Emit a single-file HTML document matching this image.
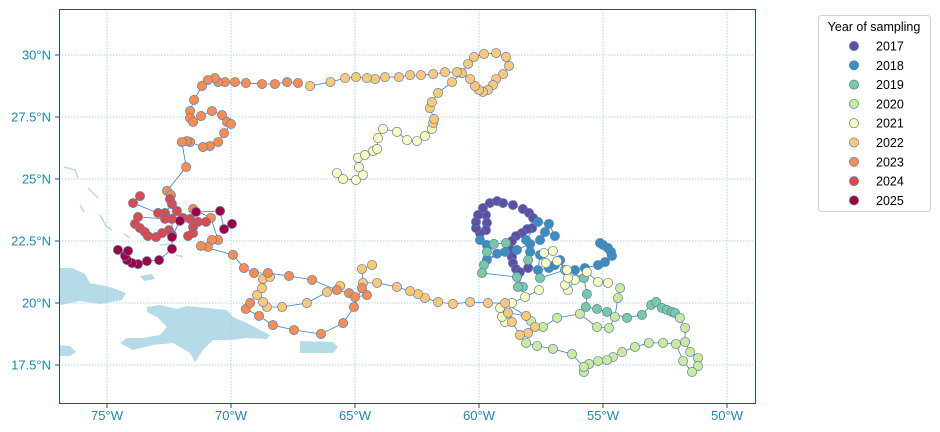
<!DOCTYPE html>
<html><head><meta charset="utf-8">
<style>
html,body{margin:0;padding:0;background:#fff;}
svg{display:block;font-family:"Liberation Sans",sans-serif;}
</style></head>
<body>
<svg id="chart" width="940" height="432" viewBox="0 0 940 432">
<defs><clipPath id="plotclip"><rect x="59" y="9" width="697" height="395"/></clipPath></defs>
<rect x="0" y="0" width="940" height="432" fill="#fff"/>
<g clip-path="url(#plotclip)" fill="#b5dbe8" stroke="none">
  <polygon points="55,268 72,268 85,274 90,283 110,287 126,293 122,300 100,304 80,301 55,306"/>
  <polygon points="147,307 160,305 177,309 187,306 207,308 227,310 233,317 240,320 247,323 260,330 270,335 267,339 247,338 230,340 213,340 203,350 195,362 190,353 173,343 153,345 133,350 120,343 127,338 143,338 160,335 167,327 157,317 147,312"/>
  <polygon points="300,341 333,342 338,347 333,353 300,353"/>
  <polygon points="55,345 70,346 76,352 70,356 55,356"/>
  <polygon points="140,276 152,274 155,279 144,281"/>
  <g stroke="#b5dbe8" stroke-width="1.5" fill="none">
    <path d="M64,167 L75,170 L78,178"/><path d="M88,188 L98,198"/><path d="M80,205 L84,212"/>
    <path d="M100,215 L106,226 L112,230"/><path d="M124,234 L130,238"/><path d="M160,245 L170,244"/>
    <path d="M176,255 L183,257"/><path d="M142,263 L150,262"/>
  </g>
</g>
<g id="grid"></g>
<g id="tracks" clip-path="url(#plotclip)"></g>
<g id="points" clip-path="url(#plotclip)"></g>
<rect x="59.5" y="9.5" width="696" height="394" fill="none" stroke="#1f4e8c" stroke-width="1"/>
<g id="ticks"></g>
<g id="legend">
  <rect x="818.5" y="15.5" width="112" height="196" rx="3" fill="#fff" stroke="#cfcfcf"/>
  <text x="874" y="31" text-anchor="middle" font-size="12.5" fill="#000">Year of sampling</text>
</g>
</svg>
<script>
const years = [2017,2018,2019,2020,2021,2022,2023,2024,2025];
const yearColors = ["#5e4fa2","#3a8fc0","#79c9a6","#cbea9e","#fbfcbf","#fdc877","#f88c51","#dc4a4c","#9e0142"];
const lonTicks = [-75,-70,-65,-60,-55,-50];
const latTicks = [17.5,20,22.5,25,27.5,30];
const lonTickLabels = ["75°W","70°W","65°W","60°W","55°W","50°W"];
const latTickLabels = ["17.5°N","20°N","22.5°N","25°N","27.5°N","30°N"];

const lon2017 = [-59.72,-59.68,-59.72,-59.96,-60.12,-60.12,-60.04,-59.84,-59.56,-59.27,-59.03,-58.63,-58.23,-57.98,-57.82,-57.86,-58.06,-58.27,-58.51,-58.67,-58.71,-58.67,-58.63,-58.51,-58.35,-58.02];
const lat2017 = [23.55,23.23,22.94,22.82,23.02,23.27,23.55,23.83,24.03,24.11,24.03,23.95,23.79,23.63,23.43,23.02,22.98,22.82,22.70,22.50,22.14,21.85,21.61,21.37,21.25,21.41];

const lon2018 = [-59.96,-59.68,-59.27,-59.68,-58.95,-58.47,-57.94,-57.54,-57.34,-56.94,-57.18,-57.62,-58.10,-57.94,-57.54,-57.62,-57.18,-56.94,-56.73,-56.53,-56.13,-55.73,-55.20,-54.92,-54.64,-54.68,-54.80,-55.00,-55.12];
const lat2018 = [22.54,22.34,21.99,21.75,22.06,22.14,22.38,22.54,22.86,22.70,23.19,23.27,22.54,22.06,21.94,21.33,21.41,21.53,21.73,21.33,21.33,21.41,21.53,21.65,21.90,22.06,22.22,22.34,22.42];

const lon2019 = [-58.91,-59.40,-59.68,-59.80,-59.88,-58.47,-58.23,-58.43,-58.02,-57.54,-56.53,-55.77,-55.65,-55.69,-55.24,-54.84,-54.03,-53.43,-53.06,-52.86,-52.62,-52.42,-52.22,-52.10];
const lat2019 = [22.42,22.38,22.06,21.53,21.21,21.05,20.65,20.65,21.73,21.01,21.33,21.01,20.36,19.84,19.76,19.64,19.40,19.52,19.92,20.04,19.80,19.72,19.64,19.60];

const lon2020 = [-51.90,-51.69,-51.69,-51.49,-51.17,-51.17,-51.41,-51.77,-52.06,-52.58,-53.15,-53.71,-54.23,-54.60,-54.84,-55.20,-55.56,-55.77,-55.77,-56.25,-57.02,-57.66,-58.10,null,-57.90,-57.42,-56.85,-55.93,-55.24,-54.76,-54.52,-54.40,-54.31];
const lat2020 = [19.40,19.00,18.43,18.02,17.78,17.46,17.22,17.66,18.35,18.39,18.39,18.23,18.02,17.82,17.70,17.66,17.54,17.22,17.42,17.94,18.15,18.27,18.39,null,19.27,19.03,19.40,19.56,19.03,18.99,19.44,20.20,20.60];

const lon2021 = [-54.80,-55.20,-55.65,-56.13,-56.41,-56.53,-56.41,-56.45,-56.85,-57.30,-57.38,-57.02,null,-57.58,-58.14,-58.67,-58.87,-58.95,-59.07,-59.15,null,-65.73,-65.48,-64.96,-64.68,-64.84,-64.88,-64.60,-64.27,-64.11,-64.07,-63.87,-63.31,-62.90,-62.50,-62.18,-61.90];
const lat2021 = [20.81,20.85,21.25,20.93,20.52,20.73,21.01,21.33,21.69,21.61,22.02,22.10,null,20.52,20.24,20.00,19.52,19.23,19.44,19.80,null,25.24,25.00,24.96,25.16,25.48,25.85,25.97,26.13,26.21,26.65,27.02,26.90,26.57,26.53,26.73,27.02];

const lon2022 = [-61.85,-61.81,-61.98,-61.90,-61.65,-61.09,-60.69,-60.44,-60.20,-59.80,-59.31,-58.91,-58.79,-59.03,-59.31,-59.44,-59.64,-59.84,-60.00,-60.16,-60.36,-60.69,-60.89,-61.37,-61.85,-62.34,-62.78,-63.23,-63.79,-64.19,-64.52,-64.96,-65.40,-65.99,-66.81,null,-57.74,-58.02,-58.35,-58.67,-58.83,-58.10,-58.95,-59.64,-60.36,-61.05,-61.65,-62.18,-62.46,-62.78,-63.31,-64.11,-64.68,-64.72,-64.31,null,-65.60,-66.13,-66.94,-67.94,-68.55,-68.71,-68.95,-68.75,-68.71,-68.43];
const lat2022 = [27.26,27.42,27.86,28.10,28.47,28.91,29.27,29.64,29.92,30.04,30.08,29.92,29.56,29.23,29.03,28.79,28.59,28.51,28.59,28.75,29.03,29.27,29.31,29.31,29.23,29.19,29.19,29.11,29.11,29.03,29.07,29.11,29.07,28.91,28.75,null,19.03,18.79,18.71,19.23,19.60,19.48,20.00,20.00,20.04,19.96,20.04,20.20,20.36,20.48,20.65,20.81,20.81,21.37,21.53,null,20.69,20.44,20.00,19.84,19.84,20.04,20.32,20.60,20.97,21.05];

const lon2023 = [-67.30,-67.74,-68.23,-68.75,-69.40,-69.84,-70.24,-70.52,-70.65,-70.93,-71.17,-71.49,-71.65,-71.65,-71.53,-71.21,-70.77,-70.36,-70.16,-70.00,-70.28,-70.52,-70.85,-71.13,-71.65,-71.77,-71.98,-71.81,-72.58,-72.42,null,-71.53,-70.81,-70.52,-70.77,-70.93,-71.21,-69.92,-69.48,-69.07,-68.51,-67.66,-66.73,-65.73,-65.24,-65.00,-64.52,-64.72,-65.04,-65.48,-66.37,-67.46,-68.31,-68.87,-69.40,-69.23];
const lat2023 = [28.87,28.91,28.83,28.83,28.87,28.91,28.91,28.91,29.07,28.99,28.75,28.19,27.74,27.46,27.30,27.54,27.74,27.58,27.30,27.22,26.85,26.49,26.33,26.29,26.49,26.53,26.49,25.48,24.52,24.35,null,23.79,23.43,22.54,22.54,22.26,22.30,21.94,21.41,21.21,21.21,21.09,20.93,20.52,20.40,20.24,20.32,20.60,19.84,19.19,18.75,18.91,19.11,19.48,19.76,20.00];

const lon2024 = [-73.67,-73.95,-72.94,-72.66,-72.38,-72.46,-72.18,-72.66,-73.75,-73.87,-73.67,-73.47,-73.35,-73.02,-72.78,-72.50,-72.38,-72.38,-71.94,-71.65,-71.33,-71.01,-71.53,-71.53,-71.73];
const lat2024 = [24.31,24.03,23.63,23.63,23.99,24.19,23.71,23.39,23.47,23.19,23.02,22.86,22.70,22.66,22.82,22.94,22.74,23.39,23.43,23.39,23.27,23.27,23.06,22.82,22.70];

const lon2025 = [-69.96,-70.28,-70.44,-71.41,-72.06,-72.38,-72.38,-72.90,-73.39,-73.75,-73.99,-74.19,-74.27,-74.56,-74.15];
const lat2025 = [23.19,22.98,23.71,23.67,23.31,22.66,22.18,21.73,21.69,21.57,21.61,21.73,21.90,22.14,22.10];

const lonSeries = [lon2017,lon2018,lon2019,lon2020,lon2021,lon2022,lon2023,lon2024,lon2025];
const latSeries = [lat2017,lat2018,lat2019,lat2020,lat2021,lat2022,lat2023,lat2024,lat2025];

const NS = "http://www.w3.org/2000/svg";
function xScale(lon){ return 107 + (lon + 75) * 24.8; }
function yScale(lat){ return 55 + (30 - lat) * 24.8; }
function mk(tag, attrs, parent){
  const e = document.createElementNS(NS, tag);
  for (const k in attrs) e.setAttribute(k, attrs[k]);
  parent.appendChild(e);
  return e;
}
const grid = document.getElementById('grid');
const ticks = document.getElementById('ticks');
lonTicks.forEach((v,i)=>{
  const x = xScale(v);
  const g = mk('line',{x1:x,y1:9,x2:x,y2:404,stroke:'#9ccbe0','stroke-width':0.8,'stroke-dasharray':'1.5,1.5'},grid);
  
  
  const tm = mk('line',{x1:x,y1:404,x2:x,y2:408,stroke:'#1f4e8c','stroke-width':1},ticks);
  
  
  const t = mk('text',{x:x,y:420,'text-anchor':'middle','font-size':13,fill:'#1b87b6'},ticks);
  t.textContent = lonTickLabels[i];
  
  
});
latTicks.forEach((v,i)=>{
  const y = yScale(v);
  const g = mk('line',{x1:59,y1:y,x2:756,y2:y,stroke:'#9ccbe0','stroke-width':0.8,'stroke-dasharray':'1.5,1.5'},grid);
  
  
  const tm = mk('line',{x1:55,y1:y,x2:59,y2:y,stroke:'#1f4e8c','stroke-width':1},ticks);
  
  
  const t = mk('text',{x:51,y:y+4.5,'text-anchor':'end','font-size':13,fill:'#1b87b6'},ticks);
  t.textContent = latTickLabels[i];
  
  
});
const tracks = document.getElementById('tracks');
const pts = document.getElementById('points');
lonSeries.forEach((lons,si)=>{
  const lats = latSeries[si];
  let d = '', pen = false;
  for (let i=0;i<lons.length;i++){
    if (lons[i]===null){ pen=false; continue; }
    d += (pen?'L':'M') + xScale(lons[i]).toFixed(1) + ',' + yScale(lats[i]).toFixed(1);
    pen = true;
  }
  const p = mk('path',{d:d,fill:'none',stroke:'#3b7cc4','stroke-width':0.8},tracks);
  
  
});
lonSeries.forEach((lons,si)=>{
  const lats = latSeries[si];
  for (let i=0;i<lons.length;i++){
    if (lons[i]===null) continue;
    const c = mk('circle',{cx:xScale(lons[i]),cy:yScale(lats[i]),r:4.6,fill:yearColors[si],stroke:'#5a7fae','stroke-width':0.7},pts);
    
    
  }
});
const legend = document.getElementById('legend');
years.forEach((yr,i)=>{
  const y = 46 + i*19.3;
  const c = mk('circle',{cx:854,cy:y,r:4.6,fill:yearColors[i],stroke:'#5a7fae','stroke-width':0.7},legend);
  
  
  const t = mk('text',{x:876,y:y+4.5,'font-size':12.5,fill:'#000'},legend);
  t.textContent = String(yr);
  
  
});
</script>
</body></html>
